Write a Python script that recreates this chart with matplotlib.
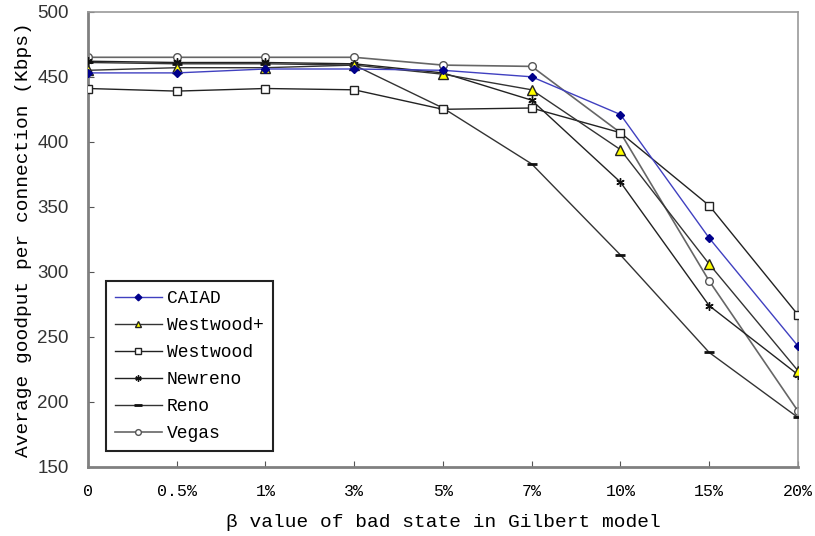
import matplotlib.pyplot as plt
import numpy as np

# beta value of bad state (category axis)
beta_labels = ['0', '0.5%', '1%', '3%', '5%', '7%', '10%', '15%', '20%']

# average goodput per connection (Kbps)
caiad = [453, 453, 456, 456, 455, 450, 421, 326, 243]
westwood_plus = [455, 457, 457, 459, 452, 440, 394, 306, 224]
westwood = [441, 439, 441, 440, 425, 426, 407, 351, 267]
newreno = [462, 461, 461, 460, 453, 432, 369, 274, 221]
reno = [461, 460, 460, 459, 426, 383, 313, 238, 188]
vegas = [465, 465, 465, 465, 459, 458, 407, 293, 193]

mono = 'Liberation Mono'

fig = plt.figure(figsize=(8.15, 5.36), dpi=100)
ax = fig.add_axes([0.108, 0.129, 0.871, 0.849])

x = np.arange(len(beta_labels))

ax.plot(x, caiad, color='#4040c0', lw=1, marker='D', ms=4.5,
        mfc='#00008b', mec='#00008b', label='CAIAD', zorder=6)
ax.plot(x, westwood_plus, color='#333333', lw=1, marker='^', ms=6.5,
        mfc='#ffff00', mec='#222222', label='Westwood+', zorder=5)
ax.plot(x, westwood, color='#222222', lw=1, marker='s', ms=6,
        mfc='white', mec='#222222', label='Westwood', zorder=4)
ax.plot(x, newreno, color='#222222', lw=1, marker=(6, 2, 0), ms=6,
        mec='#111111', mew=1, label='Newreno', zorder=3)
ax.plot(x, reno, color='#333333', lw=1, marker='_', ms=7,
        mec='#111111', mew=2, label='Reno', zorder=3)
ax.plot(x, vegas, color='#666666', lw=1.2, marker='o', ms=5.5,
        mfc='white', mec='#555555', label='Vegas', zorder=2)

ax.set_xlim(0, len(beta_labels) - 1)
ax.set_ylim(150, 500)
ax.set_yticks(np.arange(150, 501, 50))
ax.set_xticks(x)
ax.set_xticklabels(beta_labels, fontfamily=mono, fontsize=12)
for lab in ax.get_yticklabels():
    lab.set_fontfamily('Liberation Sans')
    lab.set_fontsize(13.5)
    lab.set_color('#333333')

ax.tick_params(direction='in', length=4, color='#555555', pad=12)
ax.tick_params(axis='y', pad=14)

for side in ['top', 'right']:
    ax.spines[side].set_color('#999999')
    ax.spines[side].set_linewidth(1.2)
for side in ['left', 'bottom']:
    ax.spines[side].set_color('#808080')
    ax.spines[side].set_linewidth(2)

ax.set_xlabel('\u03b2 value of bad state in Gilbert model',
              fontfamily=mono, fontsize=14, labelpad=11)
ax.set_ylabel('Average goodput per connection (Kbps)',
              fontfamily=mono, fontsize=14, labelpad=4)

leg = ax.legend(loc='lower left', bbox_to_anchor=(0.012, 0.015),
                prop={'family': mono, 'size': 13}, handlelength=2.6,
                fancybox=False, framealpha=1, labelspacing=0.55,
                borderpad=0.5, handletextpad=0.3, markerscale=0.75)
leg.get_frame().set_edgecolor('#222222')
leg.get_frame().set_linewidth(1.5)

fig.savefig('out.png', dpi=100)
